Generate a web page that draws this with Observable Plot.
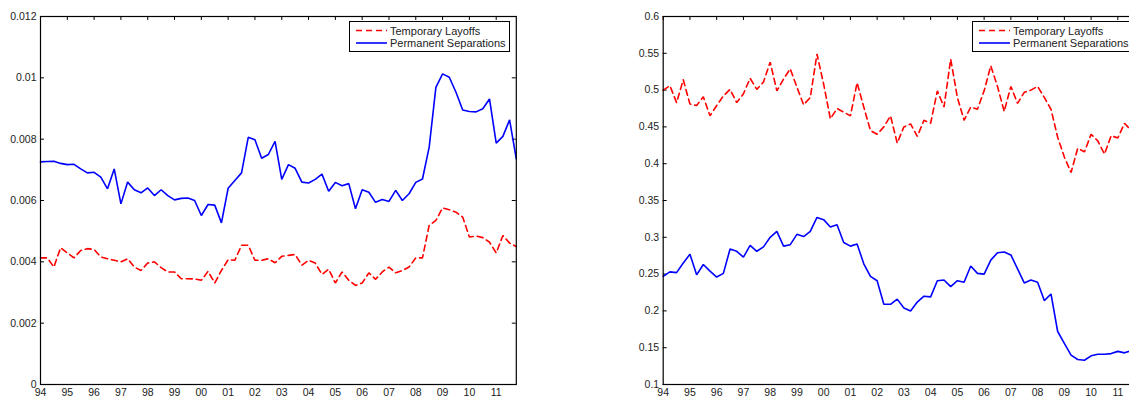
<!DOCTYPE html>
<html>
<head>
<meta charset="utf-8">
<script src="https://cdn.jsdelivr.net/npm/d3@7"></script>
<script src="https://cdn.jsdelivr.net/npm/@observablehq/plot@0.6"></script>
<style>
  html, body { margin: 0; padding: 0; background: #fff; overflow: hidden; }
  #wrap { display: flex; width: 1200px; height: 399px; }
  .panel { position: relative; height: 399px; }
  .legend { position: absolute; }
  svg text { font-family: "Liberation Sans", Arial, Helvetica, sans-serif; }
</style>
</head>
<body>
<div id="wrap">
  <div class="panel" id="left" style="width:600px"></div>
  <div class="panel" id="right" style="width:560px"></div>
</div>
<script>
// ---- data (quarterly, 1994Q1 .. 2011Q4) ----
const startYear = 1994;
const nQuarters = 72;
const quarters = [];
for (let i = 0; i < nQuarters; i++) quarters.push(startYear + i / 4);

const seriesNames = ["Temporary Layoffs", "Permanent Separations"];

const leftTemporary = [
  0.00413, 0.00413, 0.00383, 0.00446, 0.00429, 0.00413, 0.00437, 0.00443,
  0.00440, 0.00416, 0.00410, 0.00405, 0.00400, 0.00410, 0.00383, 0.00372,
  0.00396, 0.00400, 0.00381, 0.00367, 0.00367, 0.00345, 0.00345, 0.00344,
  0.00340, 0.00369, 0.00331, 0.00372, 0.00407, 0.00405, 0.00454, 0.00454,
  0.00405, 0.00405, 0.00410, 0.00397, 0.00418, 0.00421, 0.00424, 0.00389,
  0.00405, 0.00396, 0.00359, 0.00376, 0.00331, 0.00367, 0.00340, 0.00323,
  0.00331, 0.00364, 0.00343, 0.00367, 0.00383, 0.00364, 0.00372, 0.00383,
  0.00413, 0.00413, 0.00519, 0.00535, 0.00576, 0.00570, 0.00562, 0.00546,
  0.00481, 0.00484, 0.00479, 0.00464, 0.00429, 0.00486, 0.00461, 0.00450
];
const leftPermanent = [
  0.00726, 0.00727, 0.00728, 0.00721, 0.00717, 0.00718, 0.00703, 0.00690,
  0.00692, 0.00676, 0.00638, 0.00703, 0.00589, 0.00660, 0.00635, 0.00625,
  0.00641, 0.00616, 0.00635, 0.00616, 0.00602, 0.00607, 0.00608, 0.00600,
  0.00551, 0.00587, 0.00585, 0.00527, 0.00640, 0.00665, 0.00690, 0.00806,
  0.00798, 0.00738, 0.00750, 0.00793, 0.00669, 0.00717, 0.00705, 0.00660,
  0.00657, 0.00669, 0.00686, 0.00630, 0.00659, 0.00648, 0.00655, 0.00573,
  0.00635, 0.00627, 0.00594, 0.00603, 0.00597, 0.00633, 0.00600, 0.00622,
  0.00659, 0.00670, 0.00774, 0.00969, 0.01013, 0.01002, 0.00953, 0.00895,
  0.00890, 0.00889, 0.00899, 0.00931, 0.00787, 0.00809, 0.00863, 0.00736
];
const rightTemporary = [
  0.500, 0.506, 0.483, 0.514, 0.481, 0.479, 0.491, 0.465,
  0.479, 0.492, 0.501, 0.483, 0.495, 0.516, 0.501, 0.511,
  0.538, 0.499, 0.515, 0.529, 0.504, 0.480, 0.490, 0.549,
  0.508, 0.461, 0.475, 0.470, 0.465, 0.510, 0.477, 0.445,
  0.440, 0.450, 0.465, 0.428, 0.450, 0.454, 0.437, 0.459,
  0.455, 0.499, 0.477, 0.542, 0.490, 0.459, 0.477, 0.474,
  0.499, 0.533, 0.505, 0.471, 0.505, 0.482, 0.497, 0.500,
  0.505, 0.490, 0.474, 0.436, 0.409, 0.388, 0.421, 0.416,
  0.440, 0.431, 0.413, 0.438, 0.435, 0.455, 0.445, 0.450
];
const rightPermanent = [
  0.247, 0.253, 0.252, 0.265, 0.277, 0.249, 0.263, 0.254,
  0.246, 0.251, 0.284, 0.281, 0.273, 0.289, 0.281, 0.287,
  0.300, 0.308, 0.288, 0.290, 0.304, 0.301, 0.308, 0.327,
  0.324, 0.314, 0.317, 0.293, 0.288, 0.291, 0.264, 0.247,
  0.241, 0.209, 0.209, 0.216, 0.204, 0.200, 0.212, 0.220,
  0.219, 0.241, 0.242, 0.233, 0.241, 0.239, 0.261, 0.251,
  0.250, 0.269, 0.279, 0.280, 0.276, 0.257, 0.238, 0.242,
  0.239, 0.214, 0.223, 0.172, 0.156, 0.140, 0.134, 0.133,
  0.139, 0.141, 0.141, 0.142, 0.145, 0.143, 0.146, 0.147
];

const xTicks = [1994,1995,1996,1997,1998,1999,2000,2001,2002,2003,2004,2005,2006,2007,2008,2009,2010,2011];
const leftYTicks = [0, 0.002, 0.004, 0.006, 0.008, 0.010, 0.012];
const rightYTicks = [0.1, 0.15, 0.2, 0.25, 0.3, 0.35, 0.4, 0.45, 0.5, 0.55, 0.6];

const colors = { temp: "#ff0000", perm: "#0000ff" };
const dash = "6,4";
const fontFamily = '"Liberation Sans", Arial, Helvetica, sans-serif';
const fmtX = d => String(d % 100).padStart(2, "0");
const fmtY = d => String(+d.toFixed(6));

function makeTable(a, b) {
  return quarters.map((q, i) => ({ q, temp: a[i], perm: b[i] }));
}

function panel({ el, width, marginLeft, marginRight, yDomain, yTicks, temp, perm, legendLeft }) {
  const height = 399, marginTop = 16, marginBottom = 15;
  const plotW = width - marginLeft - marginRight;
  const plotH = height - marginTop - marginBottom;
  const data = makeTable(temp, perm);
  const tick = 4;
  const chart = Plot.plot({
    width, height, marginLeft, marginRight, marginTop, marginBottom,
    style: { fontFamily, fontSize: "10.5px", color: "#222", background: "white" },
    x: { domain: [1994, 2011.75] },
    y: { domain: yDomain },
    marks: [
      Plot.axisX(xTicks, { tickSize: 0, tickPadding: 4.5, tickFormat: fmtX, label: null, fill: "#222" }),
      Plot.axisY(yTicks, { tickSize: 0, tickPadding: 4, tickFormat: fmtY, label: null, fill: "#222" }),
      Plot.tickX(xTicks, { x: d => d, insetBottom: plotH - tick, stroke: "black" }),
      Plot.tickY(yTicks, { y: d => d, insetRight: plotW - tick, stroke: "black" }),
      Plot.tickY(yTicks, { y: d => d, insetLeft: plotW - tick, stroke: "black" }),
      Plot.lineY(data, { x: "q", y: "temp", stroke: colors.temp, strokeWidth: 1.6, strokeDasharray: dash, strokeLinejoin: "miter" }),
      Plot.lineY(data, { x: "q", y: "perm", stroke: colors.perm, strokeWidth: 1.6, strokeLinejoin: "miter" }),
      Plot.frame({ stroke: "black", strokeWidth: 1.2 })
    ]
  });
  el.appendChild(chart);

  // legend box
  const ns = "http://www.w3.org/2000/svg";
  const lg = document.createElementNS(ns, "svg");
  const lw = 161, lh = 31;
  lg.setAttribute("width", lw); lg.setAttribute("height", lh);
  lg.setAttribute("class", "legend");
  lg.style.left = legendLeft + "px";
  lg.style.top = "21px";
  lg.innerHTML = `
    <rect x="0.5" y="0.5" width="${lw - 1}" height="${lh - 1}" fill="white" stroke="black" stroke-width="1"/>
    <line x1="7" x2="38" y1="9.5" y2="9.5" stroke="${colors.temp}" stroke-width="1.6" stroke-dasharray="${dash}"/>
    <line x1="7" x2="38" y1="22" y2="22" stroke="${colors.perm}" stroke-width="1.6"/>
    <text x="41" y="13.5" font-size="11" fill="#222" font-family='${fontFamily}'>${seriesNames[0]}</text>
    <text x="41" y="26" font-size="11" fill="#222" font-family='${fontFamily}'>${seriesNames[1]}</text>`;
  el.appendChild(lg);
}

panel({
  el: document.getElementById("left"), width: 600, marginLeft: 40, marginRight: 84.2,
  yDomain: [0, 0.012], yTicks: leftYTicks, temp: leftTemporary, perm: leftPermanent, legendLeft: 349
});
panel({
  el: document.getElementById("right"), width: 560, marginLeft: 62.7, marginRight: 22.6,
  yDomain: [0.1, 0.6], yTicks: rightYTicks, temp: rightTemporary, perm: rightPermanent, legendLeft: 371.7
});
</script>
</body>
</html>
